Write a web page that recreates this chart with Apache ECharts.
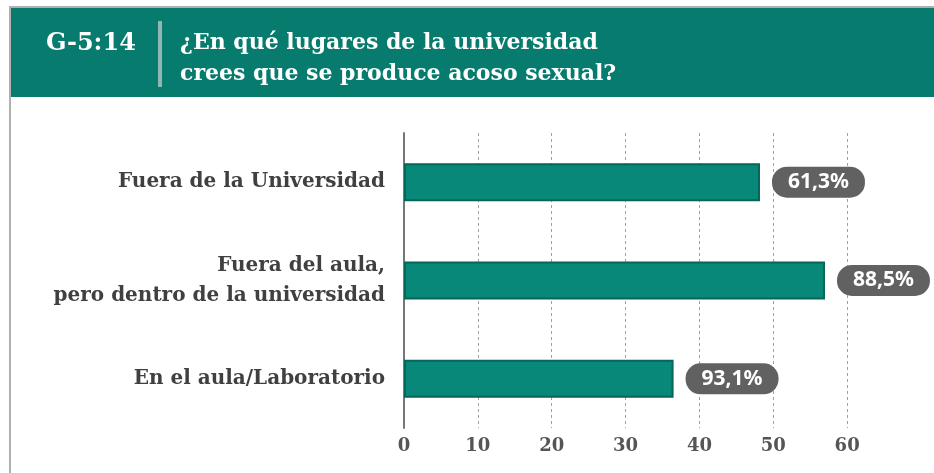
<!DOCTYPE html>
<html>
<head>
<meta charset="utf-8">
<script src="https://cdn.jsdelivr.net/npm/echarts@6/dist/echarts.min.js"></script>
<style>
  html, body { margin: 0; padding: 0; background: #fff; }
  #chart { width: 934px; height: 473px; }
</style>
</head>
<body>
<div id="chart"></div>
<script>
// datos
var categorias = ['En el aula/Laboratorio', 'Fuera del aula,\npero dentro de la universidad', 'Fuera de la Universidad'];
var valores = [36.5, 57.0, 48.2];
var etiquetas = ['93,1%', '88,5%', '61,3%'];
var ticks_x = [0, 10, 20, 30, 40, 50, 60];

var serif = '"DejaVu Serif", serif';
var chart = echarts.init(document.getElementById('chart'));

var option = {
    animation: false,
    backgroundColor: '#ffffff',
    graphic: [
        // marco gris
        { type: 'rect', shape: { x: 10, y: 7, width: 930, height: 480 }, style: { fill: 'none', stroke: '#b0b0b0', lineWidth: 2 } },
        // cabecera
        { type: 'rect', shape: { x: 11, y: 8, width: 923, height: 89 }, style: { fill: '#077b6e' } },
        { type: 'rect', shape: { x: 158, y: 21, width: 4, height: 66 }, style: { fill: '#8fb8b2' } },
        { type: 'text', left: 46, top: 32, style: { text: 'G-5:14', fill: '#ffffff', font: 'bold 24px ' + serif } },
        { type: 'text', left: 180, top: 28, style: { text: '¿En qué lugares de la universidad\ncrees que se produce acoso sexual?', fill: '#ffffff', font: 'bold 22px ' + serif, lineHeight: 31 } }
    ],
    grid: { left: 404, right: 13, top: 133, bottom: 45, containLabel: false },
    xAxis: {
        type: 'value',
        min: 0,
        max: 70,
        interval: 10,
        axisLine: { show: false },
        axisTick: { show: false },
        splitLine: { show: true, showMaxLine: false, lineStyle: { color: '#a0a0a0', type: [3, 3], width: 1 } },
        axisLabel: {
            margin: 9,
            color: '#555555',
            fontFamily: serif,
            fontWeight: 'bold',
            fontSize: 18,
            formatter: function (v) { return ticks_x.indexOf(v) >= 0 ? String(v) : ''; }
        }
    },
    yAxis: {
        type: 'category',
        data: categorias,
        axisLine: { show: true, lineStyle: { color: '#777777', width: 2 } },
        axisTick: { show: false },
        axisLabel: {
            margin: 19,
            color: '#404040',
            fontFamily: serif,
            fontWeight: 'bold',
            fontSize: 20,
            lineHeight: 30,
            align: 'right'
        }
    },
    series: [{
        type: 'bar',
        data: valores,
        barWidth: 38,
        itemStyle: { color: '#078878', borderColor: '#05665a', borderWidth: 2 },
        label: {
            show: true,
            position: 'right',
            distance: 12,
            formatter: function (p) { return etiquetas[p.dataIndex]; },
            color: '#ffffff',
            fontFamily: '"Noto Sans", sans-serif',
            fontWeight: 'bold',
            fontSize: 21,
            lineHeight: 23,
            backgroundColor: '#616161',
            borderRadius: 15,
            padding: [4, 16, 4, 16]
        }
    }]
};
chart.setOption(option);
</script>
</body>
</html>
